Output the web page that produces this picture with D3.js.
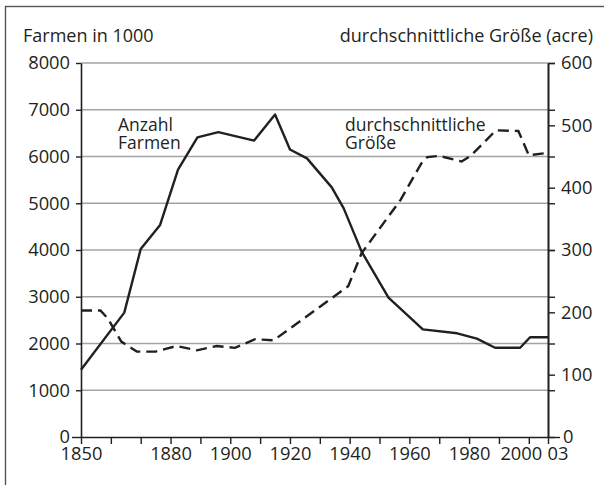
<!DOCTYPE html>
<html>
<head>
<meta charset="utf-8">
<script src="https://cdn.jsdelivr.net/npm/d3@7"></script>
<style>
  body { margin: 0; background: #fff; }
  svg { display: block; font-family: "Open Sans", sans-serif; }
</style>
</head>
<body>
<script>
// Anzahl Farmen (in 1000), linke Achse
const farmYears = [1850, 1864.5, 1870, 1876.5, 1882.5, 1889, 1896, 1908, 1915, 1920, 1925.7,
                   1934, 1938, 1944, 1953, 1964.5, 1976, 1982.6, 1988.7, 1997.1, 2000.2, 2003];
const farms = [1440, 2660, 4020, 4535, 5720, 6410, 6520, 6340, 6900, 6150, 5960,
               5340, 4890, 3965, 2980, 2303, 2218, 2103, 1910, 1910, 2133, 2133];

// durchschnittliche Größe (acre), rechte Achse
const sizeYears = [1850, 1856.5, 1859, 1863.5, 1868.7, 1875, 1882, 1888.8, 1895.5, 1901.6, 1908.3,
                   1914.5, 1939.5, 1944, 1957, 1964, 1966, 1970, 1977.5, 1980.5, 1989, 1996.5, 2000, 2003];
const sizes = [203, 203, 190, 153, 137, 137, 146, 139, 146, 143, 157,
               155, 242, 295, 380, 439, 449, 451, 442, 451, 492, 491, 452, 456];

const leftTicks = [0, 1000, 2000, 3000, 4000, 5000, 6000, 7000, 8000];
const rightTicks = [0, 100, 200, 300, 400, 500, 600];
const xTicks = [1850, 1860, 1870, 1880, 1890, 1900, 1910, 1920, 1930, 1940, 1950, 1960, 1970, 1980, 1990, 2000, 2003];
const xLabels = {1850: "1850", 1880: "1880", 1900: "1900", 1920: "1920", 1940: "1940",
                 1960: "1960", 1980: "1980", 2000: "2000", 2003: "03"};

const W = 604, H = 485;
const plot = { left: 81, right: 548, top: 63, bottom: 437 };
const ink = "#231f20";

const svg = d3.select("body").append("svg")
  .attr("width", W)
  .attr("height", H);

// Rahmen
svg.append("rect")
  .attr("x", 5.5).attr("y", 6.5)
  .attr("width", 620).attr("height", 500)
  .attr("fill", "none")
  .attr("stroke", "#555")
  .attr("stroke-width", 1.4);

// Achse 1850..2000 linear, letzte drei Jahre etwas gedehnt
const x = d3.scaleLinear()
  .domain([1850, 2000, 2003])
  .range([plot.left, 528.8, plot.right]);
const yL = d3.scaleLinear().domain([0, 8000]).range([plot.bottom, plot.top]);
const yR = d3.scaleLinear().domain([0, 600]).range([plot.bottom, plot.top]);

// Gitterlinien
svg.append("g")
  .selectAll("line")
  .data(leftTicks.filter(d => d > 0))
  .join("line")
  .attr("x1", plot.left).attr("x2", plot.right)
  .attr("y1", d => yL(d)).attr("y2", d => yL(d))
  .attr("stroke", "#a3a3a3")
  .attr("stroke-width", 1.3);

const styleAxis = g => {
  g.select(".domain").attr("stroke", ink).attr("stroke-width", 1.6);
  g.selectAll(".tick line").attr("stroke", ink).attr("stroke-width", 1.4);
  g.selectAll("text").attr("fill", ink).attr("font-size", 18.3).attr("font-family", "Open Sans, sans-serif");
};

// linke Achse
svg.append("g")
  .attr("transform", `translate(${plot.left},0)`)
  .call(d3.axisLeft(yL).tickValues(leftTicks).tickSize(5).tickPadding(6).tickSizeOuter(0).tickFormat(d3.format("d")))
  .call(styleAxis)
  .call(g => g.selectAll(".tick").filter(d => d === 0).select("line").attr("x2", -9));

// rechte Achse: kleine Striche an den Gitterlinien
svg.append("g")
  .attr("transform", `translate(${plot.right},0)`)
  .call(d3.axisRight(yL).tickValues(leftTicks).tickSize(7).tickSizeOuter(0).tickFormat(""))
  .call(styleAxis);

svg.append("g")
  .attr("transform", `translate(${plot.right},0)`)
  .call(d3.axisRight(yR).tickValues(rightTicks).tickSize(7).tickPadding(6).tickSizeOuter(0).tickFormat(d3.format("d")))
  .call(styleAxis)
  .call(g => g.selectAll(".tick").filter(d => d === 0).select("line").attr("x2", 12))
  .call(g => g.selectAll(".tick").filter(d => d === 0).select("text").attr("x", 15));

// x-Achse
svg.append("g")
  .attr("transform", `translate(0,${plot.bottom})`)
  .call(d3.axisBottom(x).tickValues(xTicks).tickSize(7).tickPadding(3).tickSizeOuter(0)
    .tickFormat(d => xLabels[d] || ""))
  .call(styleAxis)
  .call(g => g.selectAll(".tick").filter(d => d === 2000).select("text").attr("dx", -8))
  .call(g => g.selectAll(".tick").filter(d => d === 2003).select("text")
    .attr("text-anchor", "start").attr("dx", -1));

// Linien
const farmLine = d3.line()
  .x((d, i) => x(farmYears[i]))
  .y(d => yL(d));
const sizeLine = d3.line()
  .x((d, i) => x(sizeYears[i]))
  .y(d => yR(d));

svg.append("path")
  .datum(sizes)
  .attr("d", sizeLine)
  .attr("fill", "none")
  .attr("stroke", ink)
  .attr("stroke-width", 2.4)
  .attr("stroke-dasharray", "11,6");

svg.append("path")
  .datum(farms)
  .attr("d", farmLine)
  .attr("fill", "none")
  .attr("stroke", ink)
  .attr("stroke-width", 2.4)
  .attr("stroke-linejoin", "round");

// Beschriftungen (jede Zeile als eigenes text-Element)
const label = (tx, ty, lines, anchor, size) => {
  lines.forEach((s, i) => {
    svg.append("text")
      .attr("x", tx).attr("y", ty + i * 18.3)
      .attr("fill", ink)
      .attr("font-size", size)
      .attr("text-anchor", anchor)
      .text(s);
  });
};

label(23, 41.5, ["Farmen in 1000"], "start", 18);
label(593, 41.5, ["durchschnittliche Größe (acre)"], "end", 18);
label(118, 131, ["Anzahl", "Farmen"], "start", 17.5);
label(345, 131, ["durchschnittliche", "Größe"], "start", 17.5);
</script>
</body>
</html>
